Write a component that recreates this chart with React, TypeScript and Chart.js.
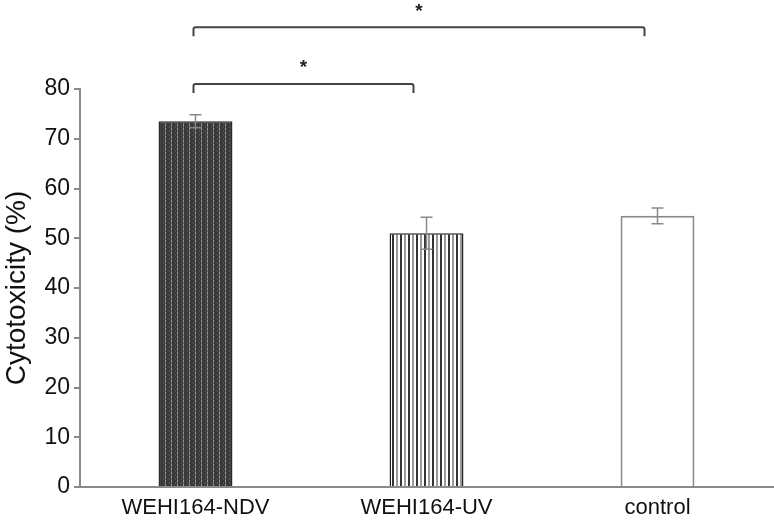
import React, { useEffect, useRef } from "react";
import { Chart, registerables } from "chart.js";

Chart.register(...registerables);

const categories = ["WEHI164-NDV", "WEHI164-UV", "control"];
const values = [73.5, 51.0, 54.5];
const errors = [1.3, 3.2, 1.6];
const yMin = 0;
const yMax = 80;
const yStep = 10;
const yTitle = "Cytotoxicity (%)";
// significance brackets: [fromIndex, toIndex, label, level value]
const bracketFrom = [0, 0];
const bracketTo = [2, 1];
const bracketLabels = ["*", "*"];
const bracketLevels = [92.4, 81.0];

const FONT = "'Liberation Sans', Arial, sans-serif";

function makeNdvPattern(ctx: CanvasRenderingContext2D) {
  const c = document.createElement("canvas");
  c.width = 6;
  c.height = 4;
  const g = c.getContext("2d")!;
  g.fillStyle = "#3a3a3a";
  g.fillRect(0, 0, 6, 4);
  g.fillStyle = "#6e6e6e";
  g.fillRect(3, 0, 1, 4);
  g.fillStyle = "#9a9a9a";
  g.fillRect(3, 0, 1, 2);
  g.fillStyle = "#555";
  g.fillRect(1, 2, 1, 2);
  return ctx.createPattern(c, "repeat")!;
}

function makeUvPattern(ctx: CanvasRenderingContext2D) {
  const c = document.createElement("canvas");
  c.width = 8;
  c.height = 4;
  const g = c.getContext("2d")!;
  g.fillStyle = "#ffffff";
  g.fillRect(0, 0, 8, 4);
  g.fillStyle = "#333333";
  g.fillRect(0, 0, 2, 4);
  g.fillStyle = "#999999";
  g.fillRect(4, 0, 2, 4);
  return ctx.createPattern(c, "repeat")!;
}

const errorBarPlugin = {
  id: "errorBars",
  afterDatasetsDraw(chart: any) {
    const ctx = chart.ctx;
    const meta = chart.getDatasetMeta(0);
    const y = chart.scales.y;
    ctx.save();
    ctx.strokeStyle = "#8a8a8a";
    ctx.lineWidth = 1.5;
    meta.data.forEach((bar: any, i: number) => {
      const x = bar.x;
      const top = y.getPixelForValue(values[i] + errors[i]);
      const bot = y.getPixelForValue(values[i] - errors[i]);
      ctx.beginPath();
      ctx.moveTo(x, top);
      ctx.lineTo(x, bot);
      ctx.moveTo(x - 6, top);
      ctx.lineTo(x + 6, top);
      ctx.moveTo(x - 6, bot);
      ctx.lineTo(x + 6, bot);
      ctx.stroke();
    });
    ctx.restore();
  },
};

const bracketPlugin = {
  id: "brackets",
  afterDraw(chart: any) {
    const ctx = chart.ctx;
    const xs = chart.scales.x;
    const ys = chart.scales.y;
    ctx.save();
    ctx.strokeStyle = "#444";
    ctx.lineWidth = 2;
    ctx.fillStyle = "#222";
    ctx.font = "bold 19px " + FONT;
    ctx.textAlign = "center";
    ctx.textBaseline = "middle";
    bracketLevels.forEach((lv, k) => {
      const x1 = xs.getPixelForValue(bracketFrom[k]) - 2;
      const x2 = xs.getPixelForValue(bracketTo[k]) - 13;
      const yy = ys.getPixelForValue(lv);
      ctx.beginPath();
      ctx.moveTo(x1, yy + 9);
      ctx.lineTo(x1, yy + 2);
      ctx.quadraticCurveTo(x1, yy, x1 + 2, yy);
      ctx.lineTo(x2 - 2, yy);
      ctx.quadraticCurveTo(x2, yy, x2, yy + 2);
      ctx.lineTo(x2, yy + 9);
      ctx.stroke();
      ctx.fillText(bracketLabels[k], (x1 + x2) / 2, yy - 16);
    });
    ctx.restore();
  },
};

export default function App() {
  const ref = useRef<HTMLCanvasElement>(null);
  useEffect(() => {
    document.body.style.margin = "0";
    const canvas = ref.current!;
    const ctx = canvas.getContext("2d")!;
    const fills = [makeNdvPattern(ctx), makeUvPattern(ctx), "#ffffff"];
    const borders = ["#2a2a2a", "#222222", "#8a8a8a"];
    const chart = new Chart(canvas, {
      type: "bar",
      data: {
        labels: categories,
        datasets: [
          {
            data: values,
            backgroundColor: fills as any,
            borderColor: borders,
            borderWidth: [1.5, 1.5, 2],
            barPercentage: 0.32,
            categoryPercentage: 1,
          },
        ],
      },
      plugins: [errorBarPlugin, bracketPlugin],
      options: {
        animation: false,
        responsive: false,
        layout: { padding: { top: 89, right: 1, left: 0, bottom: 0 } },
        plugins: { legend: { display: false }, tooltip: { enabled: false } },
        scales: {
          x: {
            grid: { display: false, drawTicks: false },
            border: { color: "#8a8a8a", width: 2 },
            ticks: {
              color: "#111",
              padding: 8,
              font: { family: FONT, size: 22 },
            },
            afterFit: (s: any) => {
              s.height = 35;
            },
          },
          y: {
            min: yMin,
            max: yMax,
            ticks: {
              stepSize: yStep,
              color: "#111",
              padding: 4,
              font: { family: FONT, size: 23 },
            },
            grid: { drawOnChartArea: false, tickLength: 6, color: "#8a8a8a", lineWidth: 2 },
            border: { color: "#8a8a8a", width: 2 },
            title: {
              display: true,
              text: yTitle,
              color: "#111",
              padding: 0,
              font: { family: FONT, size: 28 },
            },
            afterFit: (s: any) => {
              s.width = 80;
            },
          },
        },
      },
    });
    return () => chart.destroy();
  }, []);
  return <canvas ref={ref} width={774} height={522} style={{ display: "block" }} />;
}
